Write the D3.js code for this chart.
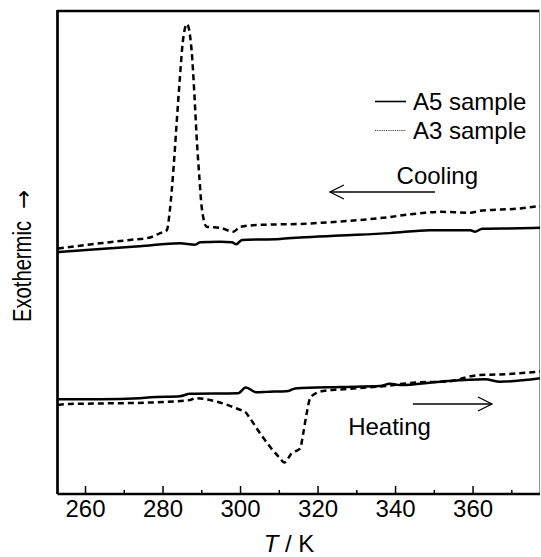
<!DOCTYPE html>
<html>
<head>
<meta charset="utf-8">
<script src="https://cdn.jsdelivr.net/npm/d3@7"></script>
<style>
  html, body { margin: 0; padding: 0; background: #fff; }
  svg { display: block; font-family: "Liberation Sans", Arial, Helvetica, sans-serif; }
</style>
</head>
<body>
<svg id="chart" width="541" height="557"></svg>
<script>
// DSC traces, heat flow in arbitrary units (exothermic up)
const coolingA5T = [253.0, 263.9, 274.2, 284.5, 288.4, 289.7, 294.8, 297.9, 299.0, 300.5, 310.3, 315.5, 325.8, 338.7, 349.0, 359.4, 360.6, 362.5, 372.3, 377.4];
const coolingA5 = [50.0, 50.6, 51.2, 51.8, 51.5, 52.0, 52.1, 52.0, 51.6, 52.5, 52.7, 53.0, 53.4, 53.9, 54.5, 54.5, 54.2, 54.8, 54.9, 55.0];

const coolingA3T = [253.0, 263.9, 271.6, 276.8, 279.4, 281.1, 281.9, 282.8, 283.7, 284.5, 285.2, 286.3, 287.5, 288.2, 288.8, 289.5, 290.1, 291.4, 294.8, 298.3, 300.0, 305.2, 315.5, 325.8, 336.1, 346.5, 351.6, 359.4, 361.9, 372.3, 377.4];
const coolingA3 = [50.7, 51.8, 52.5, 53.0, 53.9, 54.5, 58.7, 66.9, 77.3, 86.2, 93.2, 97.1, 91.7, 82.9, 73.8, 65.5, 59.3, 55.2, 55.0, 54.2, 55.2, 55.6, 55.8, 56.3, 57.0, 58.0, 58.3, 58.1, 58.5, 59.0, 59.5];

const heatingA5T = [253.0, 263.9, 274.2, 276.8, 284.5, 287.1, 299.5, 301.5, 304.3, 306.9, 312.5, 314.2, 325.8, 336.1, 338.7, 341.3, 351.6, 363.2, 367.1, 377.4];
const heatingA5 = [19.6, 19.6, 19.8, 20.0, 20.2, 20.7, 20.8, 22.0, 21.0, 21.1, 21.3, 21.8, 22.1, 22.3, 22.8, 22.5, 23.2, 23.7, 23.2, 23.9];

const heatingA3T = [253.0, 256.1, 263.9, 276.8, 287.1, 288.4, 294.8, 300.0, 301.3, 302.6, 305.2, 307.7, 310.3, 311.4, 313.3, 315.5, 316.3, 317.2, 318.1, 319.8, 321.5, 325.8, 336.1, 346.5, 352.9, 361.9, 367.1, 377.4];
const heatingA3 = [18.4, 18.6, 18.7, 18.9, 19.4, 19.8, 18.9, 17.4, 17.0, 15.6, 12.5, 9.8, 7.4, 6.5, 8.4, 9.4, 12.5, 16.7, 19.8, 20.9, 21.3, 21.6, 22.2, 23.1, 23.2, 24.6, 24.7, 25.3];

const majorTicks = [260, 280, 300, 320, 340, 360];
const minorTicks = [270, 290, 310, 330, 350, 370];
const legendLabels = ["A5 sample", "A3 sample"];

const svg = d3.select("#chart");
const plotLeft = 57.5, plotRight = 540, plotTop = 10, plotBottom = 494;

const x = d3.scaleLinear().domain([252.9, 377.4]).range([plotLeft, plotRight]);
const y = d3.scaleLinear().domain([0, 100]).range([plotBottom, plotTop]);

const line = d3.line()
  .x(d => x(d[0]))
  .y(d => y(d[1]))
  .curve(d3.curveMonotoneX);

const zip = (a, b) => a.map((t, i) => [t, b[i]]);

const plot = svg.append("g");

// frame
plot.append("line").attr("x1", plotLeft).attr("x2", plotRight).attr("y1", plotTop + 1).attr("y2", plotTop + 1)
  .attr("stroke", "#000").attr("stroke-width", 2.4);
plot.append("line").attr("x1", plotLeft).attr("x2", plotLeft).attr("y1", plotTop).attr("y2", plotBottom)
  .attr("stroke", "#000").attr("stroke-width", 2.7);
plot.append("line").attr("x1", plotRight - 0.5).attr("x2", plotRight - 0.5).attr("y1", plotTop).attr("y2", plotBottom)
  .attr("stroke", "#999").attr("stroke-width", 1);

// bottom axis with inward ticks
const xAxis = d3.axisBottom(x).tickValues(majorTicks).tickSize(-8).tickPadding(6).tickFormat(d3.format("d"));
const gx = svg.append("g").attr("transform", `translate(0,${plotBottom})`).call(xAxis);
gx.select(".domain").attr("stroke-width", 2.7).attr("d", `M${plotLeft},0H${plotRight}`);
gx.selectAll(".tick line").attr("stroke-width", 1.5);
gx.selectAll(".tick text").attr("font-size", 24).attr("font-family", "Liberation Sans, Arial, sans-serif").attr("fill", "#000").attr("dy", "0.72em");

const xMinor = d3.axisBottom(x).tickValues(minorTicks).tickSize(-4).tickFormat("");
const gm = svg.append("g").attr("transform", `translate(0,${plotBottom})`).call(xMinor);
gm.select(".domain").remove();
gm.selectAll(".tick line").attr("stroke-width", 1.5);

// curves
const curves = [
  { t: coolingA5T, v: coolingA5, dash: null },
  { t: coolingA3T, v: coolingA3, dash: "6,4" },
  { t: heatingA5T, v: heatingA5, dash: null },
  { t: heatingA3T, v: heatingA3, dash: "6,4" }
];
curves.forEach(c => {
  plot.append("path")
    .datum(zip(c.t, c.v))
    .attr("d", line)
    .attr("fill", "none")
    .attr("stroke", "#000")
    .attr("stroke-width", 2.5)
    .attr("stroke-linejoin", "round")
    .attr("stroke-dasharray", c.dash);
});

// legend
const legend = svg.append("g");
legendLabels.forEach((label, i) => {
  const ly = 101.5 + i * 29;
  legend.append("line").attr("x1", 375).attr("x2", 406).attr("y1", ly).attr("y2", ly)
    .attr("stroke", i === 0 ? "#000" : "#444")
    .attr("stroke-width", i === 0 ? 1.6 : 1)
    .attr("stroke-dasharray", i === 0 ? null : "1.2,1");
  legend.append("text").attr("x", 413).attr("y", ly).attr("dy", "0.36em")
    .attr("font-size", 24).attr("fill", "#000").text(label);
});

// direction annotations
function arrow(x1, x2, yy, headAtRight) {
  const g = svg.append("g").attr("stroke", "#000").attr("stroke-width", 1.3).attr("fill", "none");
  g.append("line").attr("x1", x1).attr("x2", x2).attr("y1", yy).attr("y2", yy);
  const hx = headAtRight ? x2 : x1;
  const s = headAtRight ? -1 : 1;
  g.append("path").attr("d", `M${hx + s * 14},${yy - 7}L${hx},${yy}L${hx + s * 14},${yy + 7}`);
}
arrow(x(323.2), x(350.3), y(62.4), false);
svg.append("text").attr("x", x(340.4)).attr("y", y(64.0)).attr("font-size", 24).attr("fill", "#000").text("Cooling");

arrow(x(344.6), x(365.0), y(18.6), true);
svg.append("text").attr("x", x(327.9)).attr("y", y(12.2)).attr("font-size", 24).attr("fill", "#000").text("Heating");

// axis titles
const xt = svg.append("text").attr("x", 289).attr("y", 552).attr("text-anchor", "middle")
  .attr("font-size", 24).attr("fill", "#000");
xt.append("tspan").attr("font-style", "italic").text("T");
xt.append("tspan").text(" / K");

const yt = svg.append("g").attr("transform", "translate(31,322) rotate(-90)");
yt.append("text")
  .attr("x", 0).attr("y", 0)
  .attr("font-size", 25).attr("fill", "#000")
  .attr("textLength", 101).attr("lengthAdjust", "spacingAndGlyphs")
  .text("Exothermic");
yt.append("text")
  .attr("x", 113).attr("y", 0)
  .attr("font-family", "DejaVu Sans")
  .attr("font-size", 23).attr("fill", "#000")
  .text("\u2192");
</script>
</body>
</html>
